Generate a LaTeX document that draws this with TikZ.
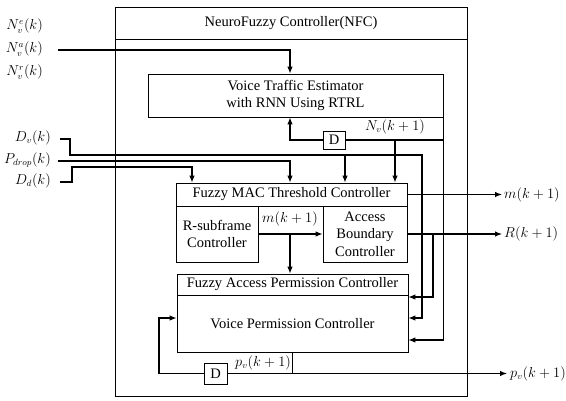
\documentclass[tikz,border=0pt]{standalone}
\usepackage{fontspec}
\setmainfont{Liberation Serif}
\usetikzlibrary{arrows.meta}
\begin{document}
\begin{tikzpicture}[x=1pt,y=-1pt,
  box/.style={draw, line width=0.8pt, inner sep=0pt, align=center, font=\fontsize{14.5}{17.5}\selectfont},
  arr/.style={line width=1.1pt, -{Latex[length=7pt,width=5.5pt]}},
  ln/.style={line width=1.1pt},
  lab/.style={inner sep=0pt, font=\fontsize{13.5}{15}\selectfont},
  nlab/.style={lab, anchor=east, text height=9pt, text depth=3.5pt}]
\useasboundingbox (0,0) rectangle (566,400);
% boxes
\node[box, minimum width=352pt, minimum height=389pt] (nfc) at (291,201.5) {};
\node[box, minimum width=352pt, minimum height=32pt] (nfct) at (291,23) {NeuroFuzzy Controller(NFC)};
\node[box, minimum width=295pt, minimum height=43pt] (vte) at (295.5,95.5) {Voice Traffic Estimator\\with RNN Using RTRL};
\node[box, minimum width=22pt, minimum height=18pt] (d1) at (334,140) {D};
\node[box, minimum width=231pt, minimum height=23pt] (fmtc) at (291.5,194.5) {Fuzzy MAC Threshold Controller};
\node[box, minimum width=82pt, minimum height=56pt] (rs) at (217,234) {R-subframe\\Controller};
\node[box, minimum width=84pt, minimum height=56pt] (ab) at (365,234) {Access\\Boundary\\Controller};
\node[box, minimum width=231pt, minimum height=21pt] (fapc) at (292.5,284.5) {Fuzzy Access Permission Controller};
\node[box, minimum width=231pt, minimum height=57pt] (vpc) at (292.5,323.5) {Voice Permission Controller};
\node[box, minimum width=23pt, minimum height=21pt] (d2) at (215.5,373.5) {D};
% helper coordinates
\coordinate (xa) at (290,0);
\coordinate (xb) at (345,0);
\coordinate (xc) at (395,0);
\coordinate (xd) at (192,0);
\coordinate (xe) at (422,0);
\coordinate (xf) at (433,0);
\coordinate (xg) at (443,0);
\coordinate (xh) at (159,0);
\coordinate (xm) at (502,0);
\coordinate (xp) at (507,0);
\coordinate (yu) at (0,297);
\coordinate (yv) at (0,318);
\coordinate (yk) at (0,340);
% left labels
\node[nlab] (lne) at (43,27) {$N_v^e(k)$};
\node[nlab] (lna) at (43,50) {$N_v^a(k)$};
\node[nlab] (lnr) at (43,73) {$N_v^r(k)$};
\node[nlab] (ldv) at (51,139) {$D_v(k)$};
\node[nlab] (lpd) at (51,161) {$P_{drop}(k)$};
\node[nlab] (ldd) at (51,182) {$D_d(k)$};
\coordinate (ina) at (58,50);
\coordinate (dvin) at (60,139);
\coordinate (dvb) at (70,155);
\coordinate (pin) at (58,161);
\coordinate (ddin) at (60,182);
\coordinate (ddb) at (72,167);
% inputs
\draw[arr] (ina) -| (vte.north -| xa);
\draw[arr] (dvin) -| (dvb) -- (dvb -| xe) |- (vpc.east |- yv);
\draw[arr] (dvb -| xb) -- (fmtc.north -| xb);
\draw[arr] (pin) -| (fmtc.north -| xa);
\draw[arr] (ddin) -| (ddb) -| (fmtc.north -| xd);
% estimator feedback
\draw[arr] (d1.west) -| (vte.south -| xa);
\draw[ln] (d1.east) -- (d1.east -| xg);
\draw[arr] (vte.south east) |- (vpc.east |- yk);
\draw[arr] (d1.east -| xc) -- (fmtc.north -| xc);
\node[lab] (lnv) at (395,127) {$N_v(k+1)$};
% FMTC internals
\draw[arr] (rs.east) -- (ab.west);
\node[lab] (lm1) at (290,219) {$m(k+1)$};
\draw[arr] (rs.east -| xa) -- (fapc.north -| xa);
% outputs
\draw[arr] (fmtc.east) -- (fmtc.east -| xm);
\node[lab, anchor=west] (lmo) at ([xshift=2pt]fmtc.east -| xm) {$m(k+1)$};
\draw[arr] (ab.east) -- (ab.east -| xm);
\node[lab, anchor=west] (lro) at ([xshift=2pt]ab.east -| xm) {$R(k+1)$};
\draw[arr] (ab.east -| xf) |- (vpc.east |- yu);
% VPC output and feedback
\draw[arr] (vpc.south) |- (d2.east -| xp);
\node[lab, anchor=west] (lpo) at ([xshift=3pt]d2.east -| xp) {$p_v(k+1)$};
\draw[ln] (d2.east) -- (d2.east -| vpc.south);
\draw[arr] (d2.west) -| (xh |- yv) -- (vpc.west |- yv);
\node[lab] (lpv) at (263,363) {$p_v(k+1)$};
\end{tikzpicture}
\end{document}
